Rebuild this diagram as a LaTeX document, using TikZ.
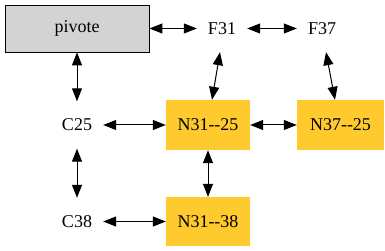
\documentclass[tikz,border=0pt]{standalone}
\usepackage{fontspec}
\setmainfont{Liberation Serif}
\usetikzlibrary{arrows.meta}
\definecolor{pivgray}{RGB}{211,211,211}
\definecolor{gold}{RGB}{255,202,46}
\begin{document}
\begin{tikzpicture}[x=1pt,y=1pt,
  every node/.style={font=\fontsize{18}{20}\selectfont},
  label/.style={minimum height=47, inner xsep=11, inner ysep=0},
  pivbox/.style={draw=black, line width=0.8, fill=pivgray, minimum width=144, minimum height=47},
  goldbox/.style={fill=gold, minimum height=50, inner sep=0},
  link/.style={{Triangle[length=13pt,width=10pt]}-{Triangle[length=13pt,width=10pt]}, line width=1}
]
\useasboundingbox (0,0) rectangle (385,251);

% nodes
\node[pivbox] (piv) at (77,222.5) {pivote};
\node[label] (F31) at (222,222.5) {F31};
\node[label] (F37) at (322,222.5) {F37};
\node[label] (C25) at (77,126) {C25};
\node[label] (C38) at (77,29.5) {C38};
\node[goldbox, minimum width=84] (N3125) at (208,126) {N31-{}-25};
\node[goldbox, minimum width=87] (N3725) at (340.5,126) {N37-{}-25};
\node[goldbox, minimum width=84, minimum height=49] (N3138) at (208,29.5) {N31-{}-38};

% connectors
\draw[link] (piv.east) -- (F31.west);
\draw[link] (F31.east) -- (F37.west);
\draw[link] (piv.south) -- (C25.north);
\draw[link] ([xshift=-2]F31.south) -- ([xshift=4]N3125.north);
\draw[link] ([xshift=4]F37.south) -- ([xshift=-5.5]N3725.north);
\draw[link] (C25.east) -- (N3125.west);
\draw[link] (N3125.east) -- (N3725.west);
\draw[link] (C25.south) -- (C38.north);
\draw[link] (N3125.south) -- (N3138.north);
\draw[link] (C38.east) -- (N3138.west);
\end{tikzpicture}
\end{document}
